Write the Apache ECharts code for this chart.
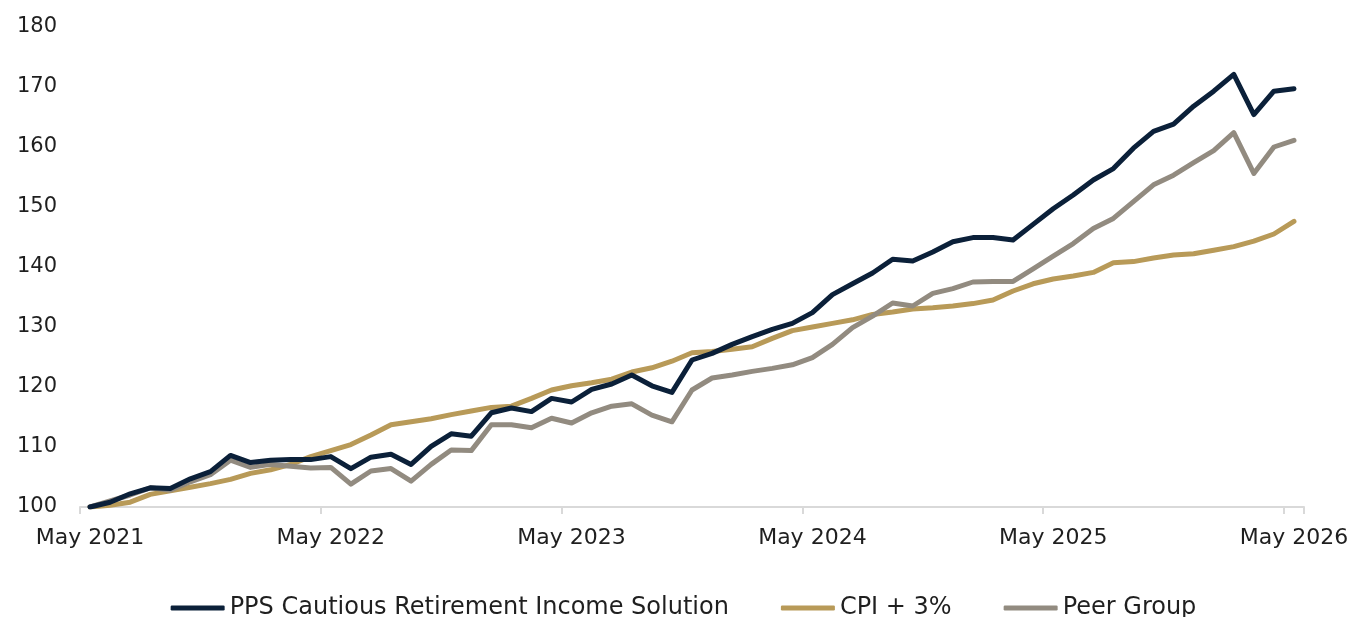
<!DOCTYPE html>
<html>
<head>
<meta charset="utf-8">
<script src="https://cdn.jsdelivr.net/npm/echarts@6/dist/echarts.min.js"></script>
<style>
  html, body { margin: 0; padding: 0; background: #fff; }
  #mainEchart { width: 1367px; height: 617px; }
</style>
</head>
<body>
<div id="mainEchart"></div>
<script>
  // months May 2021 .. May 2026
  var monthNames = ['Jan','Feb','Mar','Apr','May','Jun','Jul','Aug','Sep','Oct','Nov','Dec'];
  var months = [];
  for (var k = 0; k < 61; k++) {
      var m = (4 + k) % 12;
      var y = 2021 + Math.floor((4 + k) / 12);
      months.push(monthNames[m] + ' ' + y);
  }

  var pps = [100, 100.8, 102.2, 103.2, 103.1, 104.7, 105.9, 108.6, 107.4, 107.8, 107.9, 107.9,
             108.4, 106.4, 108.3, 108.8, 107.1, 110.1, 112.2, 111.8, 115.7, 116.5, 115.9, 118.1,
             117.5, 119.6, 120.5, 122.0, 120.2, 119.1, 124.5, 125.6, 127.1, 128.4, 129.6, 130.6,
             132.4, 135.4, 137.2, 139.0, 141.3, 141.0, 142.5, 144.2, 144.9, 144.9, 144.5, 147.1,
             149.7, 152.0, 154.5, 156.4, 159.8, 162.6, 163.8, 166.8, 169.3, 172.1, 165.4, 169.3,
             169.7];

  var cpi = [100, 100.3, 100.8, 102.1, 102.7, 103.3, 103.9, 104.6, 105.6, 106.2, 107.1, 108.4,
             109.4, 110.4, 112.0, 113.7, 114.2, 114.7, 115.4, 116.0, 116.6, 116.8, 118.1, 119.5,
             120.2, 120.7, 121.3, 122.5, 123.2, 124.3, 125.7, 125.9, 126.3, 126.7, 128.1, 129.4,
             130.0, 130.6, 131.2, 132.1, 132.5, 133.0, 133.2, 133.5, 133.9, 134.5, 136.0, 137.2,
             138.0, 138.5, 139.1, 140.7, 140.9, 141.5, 142.0, 142.2, 142.8, 143.4, 144.3, 145.5,
             147.6];

  var peer = [100, 101.0, 102.0, 103.2, 102.8, 104.2, 105.4, 107.8, 106.6, 107.1, 106.8, 106.5,
              106.6, 103.8, 106.0, 106.4, 104.3, 107.1, 109.5, 109.4, 113.7, 113.7, 113.2, 114.8,
              114.0, 115.7, 116.8, 117.2, 115.3, 114.2, 119.5, 121.5, 122.0, 122.6, 123.1, 123.7,
              124.9, 127.1, 129.9, 131.8, 134.0, 133.5, 135.6, 136.4, 137.5, 137.6, 137.6, 139.7,
              141.8, 143.9, 146.4, 148.1, 150.9, 153.7, 155.3, 157.4, 159.4, 162.4, 155.6, 160.0,
              161.1];

  var seriesNames = ['PPS Cautious Retirement Income Solution', 'CPI + 3%', 'Peer Group'];
  var colors = ['#0b2039', '#b89a58', '#928b80'];

  var textColor = '#1f1f1f';
  var fontFamily = 'DejaVu Sans, sans-serif';

  function lineSeries(name, data, color) {
      return {
          name: name,
          type: 'line',
          data: data,
          symbol: 'none',
          smooth: false,
          lineStyle: { width: 5, color: color, cap: 'round', join: 'round' },
          itemStyle: { color: color },
          z: name === seriesNames[0] ? 3 : 2
      };
  }

  var option = {
      animation: false,
      backgroundColor: '#fff',
      color: colors,
      grid: {
          left: 80,
          right: 63,
          top: 27,
          bottom: 110
      },
      legend: {
          data: seriesNames,
          left: 'center',
          top: 591,
          icon: 'roundRect',
          itemWidth: 54,
          itemHeight: 5,
          itemGap: 52,
          textStyle: { fontSize: 24, color: textColor, fontFamily: fontFamily }
      },
      xAxis: [
          {
              type: 'category',
              data: months,
              boundaryGap: true,
              axisLine: { lineStyle: { color: '#d9d9d9', width: 2 } },
              axisTick: {
                  show: true,
                  interval: 11,
                  length: 7,
                  lineStyle: { color: '#d9d9d9', width: 2 }
              },
              axisLabel: {
                  interval: 11,
                  margin: 20,
                  fontSize: 22,
                  color: textColor,
                  fontFamily: fontFamily,
                  formatter: function (v) { return v.replace(/^\w+/, 'May'); }
              },
              splitLine: { show: false }
          }
      ],
      yAxis: [
          {
              type: 'value',
              min: 100,
              max: 180,
              interval: 10,
              axisLine: { show: false },
              axisTick: { show: false },
              splitLine: { show: false },
              axisLabel: {
                  margin: 23,
                  fontSize: 21,
                  color: textColor,
                  fontFamily: fontFamily
              }
          }
      ],
      series: [
          lineSeries(seriesNames[1], cpi, colors[1]),
          lineSeries(seriesNames[2], peer, colors[2]),
          lineSeries(seriesNames[0], pps, colors[0])
      ]
  };

  var myEcharts = echarts.init(document.getElementById('mainEchart'));
  myEcharts.setOption(option);
</script>
</body>
</html>
